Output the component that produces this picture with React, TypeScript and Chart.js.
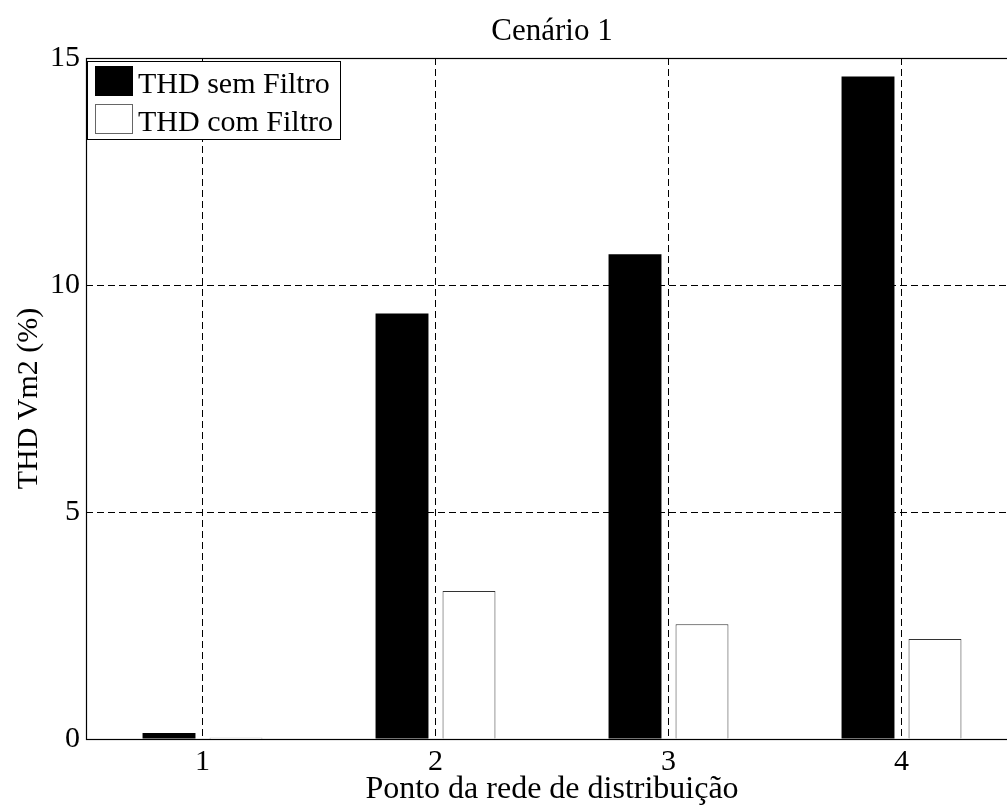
import React, { useEffect, useRef } from "react";
import { Chart, registerables } from "chart.js";

Chart.register(...registerables);

// ---- data ----
const categories = ["1", "2", "3", "4"];
const seriesLabels = ["THD sem Filtro", "THD com Filtro"];
const semFiltro = [0.13, 9.37, 10.68, 14.59];
const comFiltro = [0.03, 3.26, 2.53, 2.2];
const yTicks = [0, 5, 10, 15];
const titleText = "Cenário 1";
const xTitle = "Ponto da rede de distribuição";
const yTitle = "THD Vm2 (%)";

const FONT = "'Liberation Serif', 'Times New Roman', serif";

const framePlugin = {
  id: "frame",
  afterDatasetsDraw(chart: any) {
    const { ctx, chartArea } = chart;
    ctx.save();
    ctx.strokeStyle = "#000";
    ctx.lineWidth = 1.2;
    ctx.strokeRect(
      Math.round(chartArea.left) + 0.5,
      Math.round(chartArea.top) + 0.5,
      chartArea.right - chartArea.left,
      chartArea.bottom - chartArea.top
    );
    ctx.restore();
  },
};

const legendPlugin = {
  id: "boxLegend",
  afterDraw(chart: any) {
    const { ctx, chartArea } = chart;
    const x0 = Math.round(chartArea.left) + 1;
    const y0 = Math.round(chartArea.top) + 3;
    const w = 253;
    const h = 78;
    ctx.save();
    ctx.fillStyle = "#fff";
    ctx.fillRect(x0, y0, w, h);
    ctx.strokeStyle = "#000";
    ctx.lineWidth = 1;
    ctx.strokeRect(x0 + 0.5, y0 + 0.5, w, h);
    chart.data.datasets.forEach((ds: any, i: number) => {
      const sy = Math.round(y0 + 5 + i * 37.5);
      ctx.fillStyle = ds.backgroundColor;
      ctx.fillRect(x0 + 8, sy, 38, 30);
      ctx.strokeStyle = i === 0 ? "#000" : "#666";
      ctx.lineWidth = 1;
      ctx.strokeRect(x0 + 8.5, sy + 0.5, 37, 29);
      ctx.fillStyle = "#000";
      ctx.font = `30px ${FONT}`;
      ctx.textBaseline = "alphabetic";
      ctx.textAlign = "left";
      ctx.fillText(ds.label, x0 + 51, y0 + 32 + i * 37.5);
    });
    ctx.restore();
  },
};

export default function App() {
  const ref = useRef<HTMLCanvasElement>(null);

  useEffect(() => {
    if (!ref.current) return;
    const chart = new Chart(ref.current, {
      type: "bar",
      data: {
        labels: categories,
        datasets: [
          {
            label: seriesLabels[0],
            data: semFiltro,
            backgroundColor: "#000",
            borderColor: "#000",
            borderWidth: 0,
            categoryPercentage: 0.575,
            barPercentage: 0.79,
          },
          {
            label: seriesLabels[1],
            data: comFiltro,
            backgroundColor: "#fff",
            borderColor: "#333",
            borderWidth: 1,
            categoryPercentage: 0.575,
            barPercentage: 0.79,
          },
        ],
      },
      options: {
        responsive: false,
        animation: false,
        layout: { padding: { left: 0, right: 12, top: 0, bottom: 0 } },
        font: { family: FONT },
        plugins: {
          legend: { display: false },
          tooltip: { enabled: false },
          title: {
            display: true,
            text: titleText,
            fullSize: false,
            color: "#000",
            font: { family: FONT, size: 31, weight: "normal" },
            padding: { top: 12.9, bottom: 7.9 },
          },
        },
        scales: {
          x: {
            type: "category",
            offset: true,
            grid: {
              display: true,
              offset: false,
              color: "#000",
              lineWidth: 1,
              drawTicks: false,
            },
            border: { display: false, dash: [7, 4] },
            ticks: {
              color: "#000",
              font: { family: FONT, size: 30 },
              padding: 5.5,
              maxRotation: 0,
            },
            title: {
              display: true,
              text: xTitle,
              color: "#000",
              font: { family: FONT, size: 32, lineHeight: 1.0 },
              padding: { top: 0, bottom: 1 },
            },
            afterFit: (s: any) => {
              s.height = 68;
            },
          },
          y: {
            min: 0,
            max: 15,
            grid: {
              display: true,
              color: (c: any) =>
                c.tick && (c.tick.value === 0 || c.tick.value === 15)
                  ? "rgba(0,0,0,0)"
                  : "#000",
              lineWidth: 1,
              drawTicks: false,
            },
            border: { display: false, dash: [7, 4] },
            afterBuildTicks: (s: any) => {
              s.ticks = yTicks.map((v) => ({ value: v }));
            },
            ticks: {
              color: "#000",
              font: { family: FONT, size: 30 },
              padding: 6,
            },
            title: {
              display: true,
              text: yTitle,
              color: "#000",
              font: { family: FONT, size: 30 },
              padding: { top: 11, bottom: 0 },
            },
            afterFit: (s: any) => {
              s.width = 86;
            },
          },
        },
      },
      plugins: [framePlugin, legendPlugin],
    } as any);
    return () => chart.destroy();
  }, []);

  return (
    <div
      style={{
        position: "fixed",
        left: 0,
        top: 0,
        width: 1007,
        height: 807,
        overflow: "hidden",
        background: "#fff",
      }}
    >
      <canvas
        ref={ref}
        width={1030}
        height={807}
        style={{ display: "block", width: 1030, height: 807 }}
      />
    </div>
  );
}
